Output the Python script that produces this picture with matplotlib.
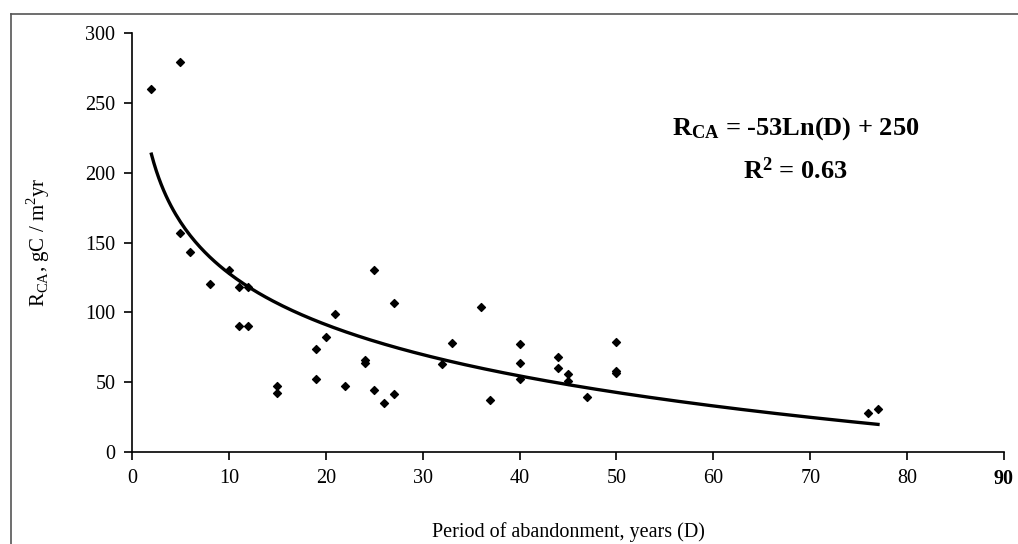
import numpy as np
import matplotlib.pyplot as plt
from matplotlib.lines import Line2D

plt.rcParams['font.family'] = ['Liberation Serif', 'DejaVu Serif']
plt.rcParams['mathtext.fontset'] = 'custom'
plt.rcParams['mathtext.rm'] = 'Liberation Serif'
plt.rcParams['mathtext.bf'] = 'Liberation Serif:bold'

# Period of abandonment (years) and R_CA (gC / m2 yr)
years = [2, 5, 5, 6, 8, 10, 11, 12, 11, 12, 15, 15, 19, 19, 20, 21, 22, 24, 24,
         25, 25, 26, 27, 27, 32, 33, 36, 37, 40, 40, 40, 44, 44, 45, 45, 47,
         50, 50, 50, 76, 77]
r_ca = [260, 279, 157, 143, 120, 130, 118, 118, 90, 90, 47.5, 42, 74, 52.5, 82,
        98.5, 47.5, 66, 63.5, 130, 44.5, 35, 106.5, 41.5, 63, 78, 103.5, 37,
        77, 63.5, 52.5, 68, 60, 55.5, 50.5, 39.5, 79, 58, 56.5, 28, 31]

# fitted trend
fit_a, fit_b = -53, 250
fit_start, fit_end = 2, 77

x_ticks = [0, 10, 20, 30, 40, 50, 60, 70, 80, 90]
y_ticks = [0, 50, 100, 150, 200, 250, 300]

fig = plt.figure(figsize=(10.18, 5.44), dpi=100)
ax = fig.add_axes([0.1297, 0.1691, 0.8565, 0.7702])

ax.scatter(years, r_ca, marker='D', s=16, color='black', zorder=3)
d = np.linspace(fit_start, fit_end, 300)
ax.plot(d, fit_a * np.log(d) + fit_b, color='black', linewidth=2.4, zorder=2)

ax.set_xlim(0, 90)
ax.set_ylim(0, 300)
ax.set_xticks(x_ticks)
ax.set_yticks(y_ticks)
ax.set_xticklabels([str(t) for t in x_ticks], fontsize=14.5)
ax.set_yticklabels([str(t) for t in y_ticks], fontsize=14.5)
ax.get_xticklabels()[-1].set_fontweight('bold')
ax.tick_params(direction='out', length=6, width=1.2, pad=6)
for s in ['top', 'right']:
    ax.spines[s].set_visible(False)
for s in ['left', 'bottom']:
    ax.spines[s].set_linewidth(1.2)

ax.set_xlabel('Period of abandonment, years (D)', fontsize=14.5, labelpad=24)
ax.set_ylabel(r'R$_{\mathrm{CA}}$, gC / m$^{2}$yr', fontsize=15, labelpad=24)

ax.text(0.761, 0.772, r'$\mathbf{R_{CA}}$ = -53Ln(D) + 250', transform=ax.transAxes,
        fontsize=19, fontweight='bold', ha='center', va='center')
ax.text(0.761, 0.672, r'$\mathbf{R^{2}}$ = 0.63', transform=ax.transAxes,
        fontsize=19, fontweight='bold', ha='center', va='center')

# outer frame (top and left edges only)
fig.add_artist(Line2D([11 / 1018, 11 / 1018], [0, 1 - 14 / 544],
                      transform=fig.transFigure, color='#555555', linewidth=1.2))
fig.add_artist(Line2D([11 / 1018, 1], [1 - 14 / 544, 1 - 14 / 544],
                      transform=fig.transFigure, color='#555555', linewidth=1.2))

fig.savefig('out.png', dpi=100)
